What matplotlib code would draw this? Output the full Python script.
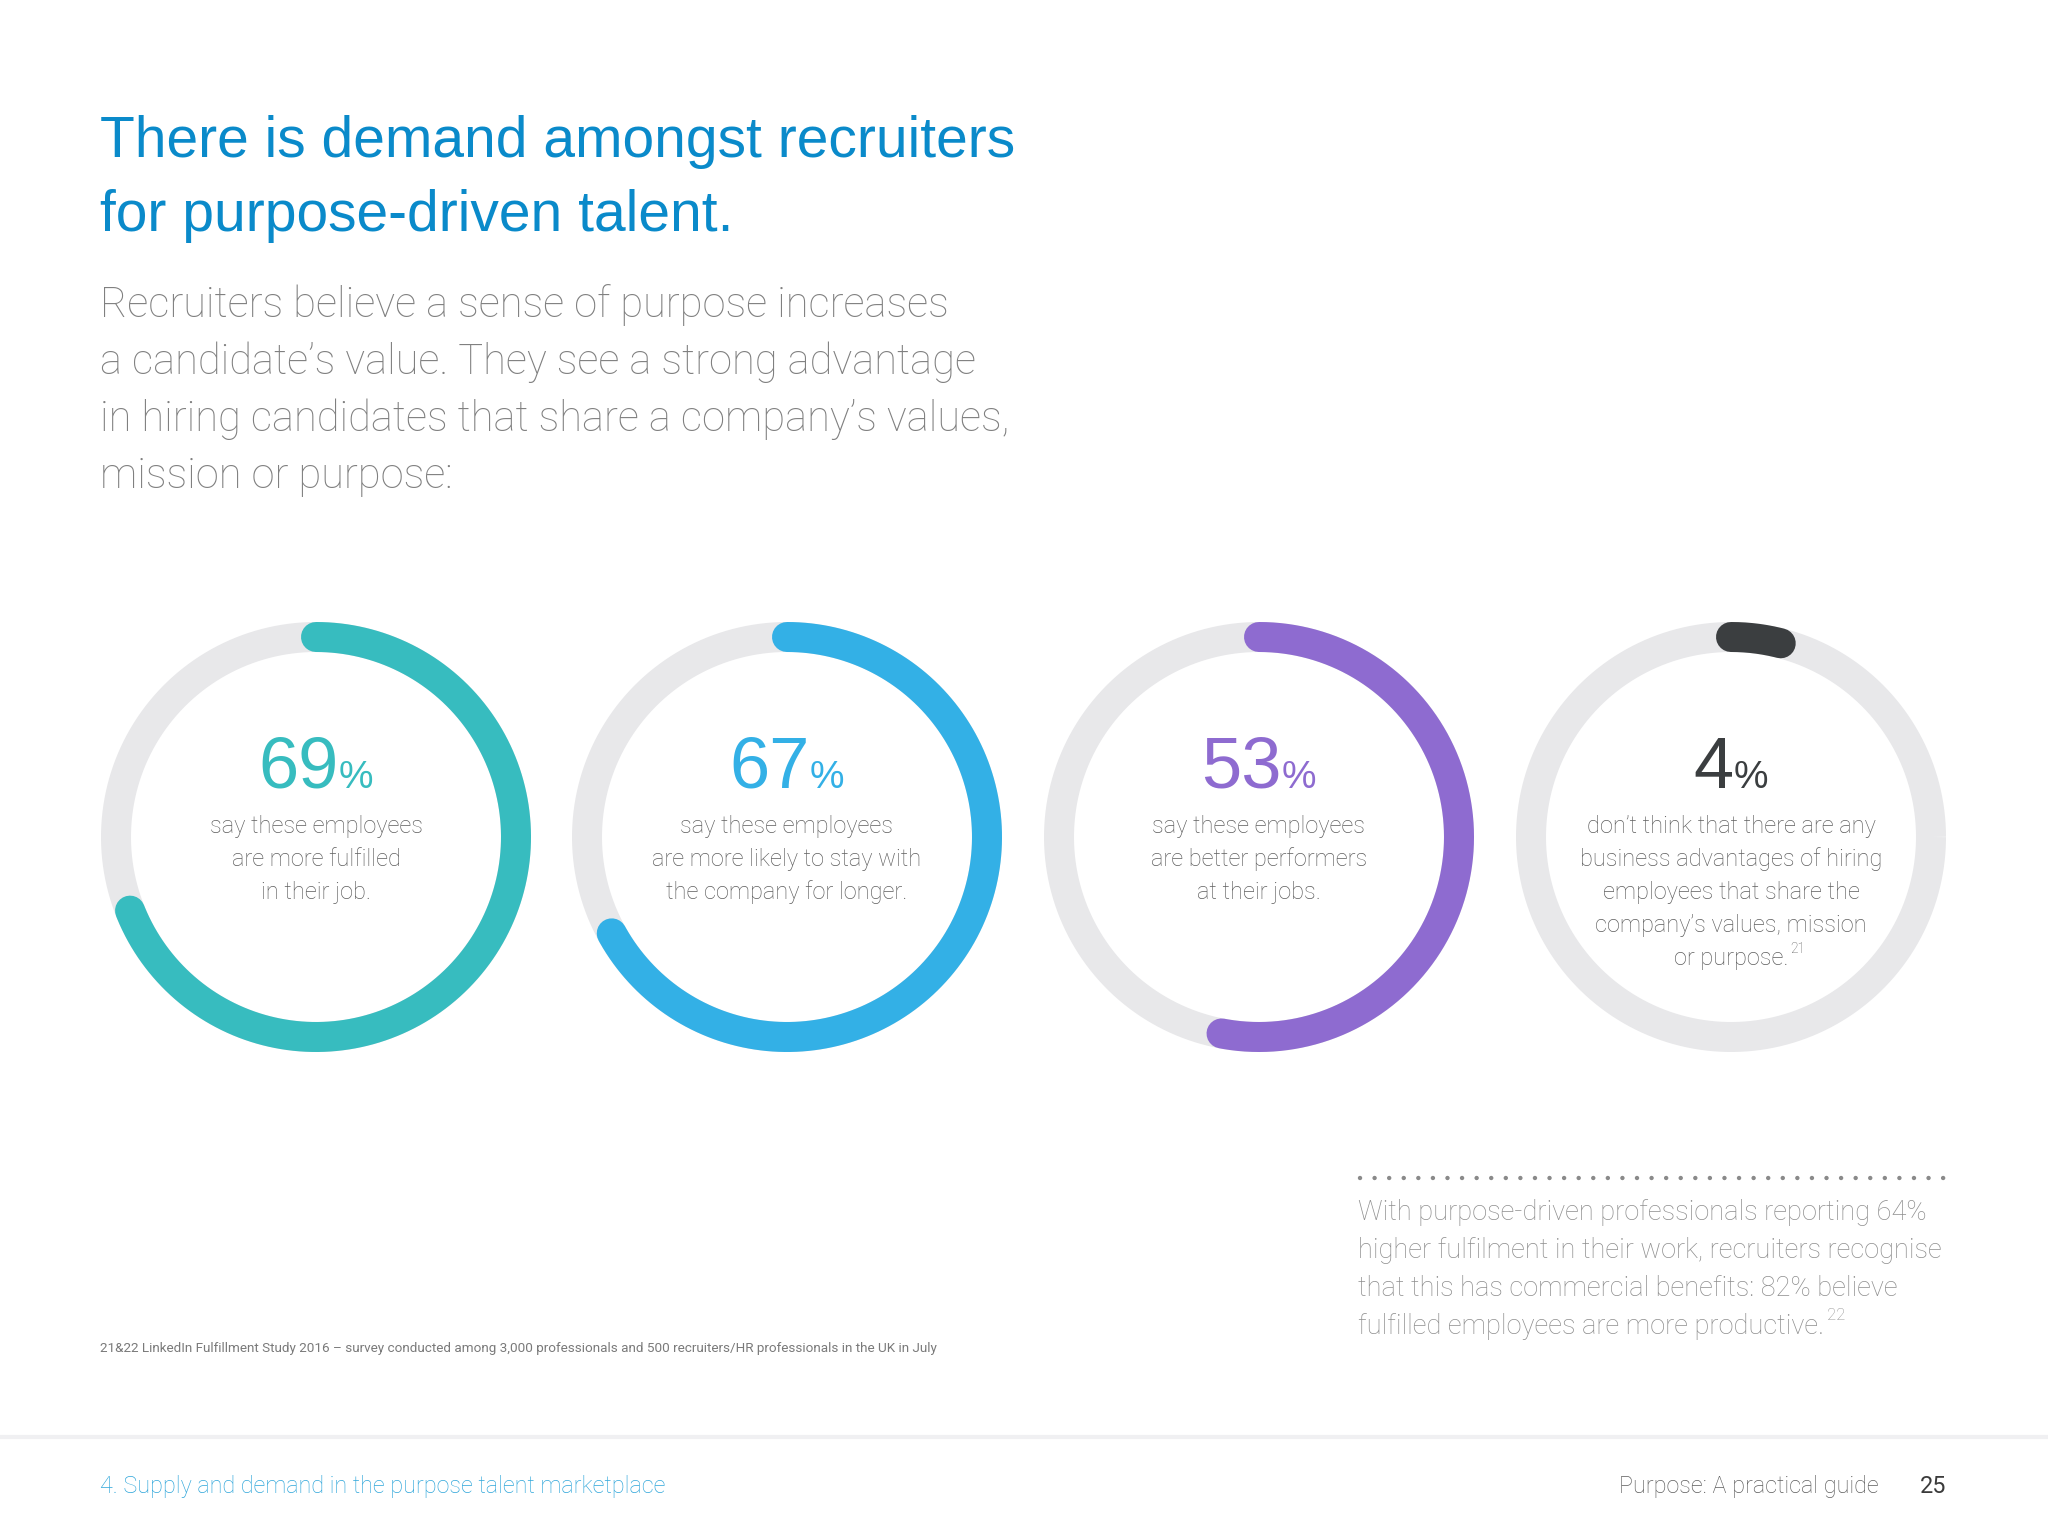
import numpy as np
import matplotlib
matplotlib.use("Agg")
import matplotlib.pyplot as plt

# Data
values = [69, 67, 53, 4]
colors = ["#37bcbf", "#33b0e6", "#8e6bd0", "#3b3e40"]
number_colors = ["#37bcbf", "#33b0e6", "#8e6bd0", "#3b3e40"]
descriptions = [
    ["say these employees", "are more fulfilled", "in their job."],
    ["say these employees", "are more likely to stay with", "the company for longer."],
    ["say these employees", "are better performers", "at their jobs."],
    ["don\u2019t think that there are any", "business advantages of hiring",
     "employees that share the", "company\u2019s values, mission", "or purpose."],
]
title_lines = ["There is demand amongst recruiters", "for purpose-driven talent."]
subtitle_lines = [
    "Recruiters believe a sense of purpose increases",
    "a candidate\u2019s value. They see a strong advantage",
    "in hiring candidates that share a company\u2019s values,",
    "mission or purpose:",
]
side_lines = [
    "With purpose-driven professionals reporting 64%",
    "higher fulfilment in their work, recruiters recognise",
    "that this has commercial benefits: 82% believe",
    "fulfilled employees are more productive.",
]
footnote = ("21&22 LinkedIn Fulfillment Study 2016 \u2013 survey conducted among 3,000 "
            "professionals and 500 recruiters/HR professionals in the UK in July")
footer_left = "4. Supply and demand in the purpose talent marketplace"
footer_right = "Purpose: A practical guide"
page_no = "25"

HEAD = ["Liberation Sans", "DejaVu Sans"]
LIGHT = ["Roboto", "DejaVu Sans"]

fig = plt.figure(figsize=(20.48, 15.36), dpi=100)
ax = fig.add_axes([0, 0, 1, 1])
ax.set_xlim(0, 2048)
ax.set_ylim(1536, 0)
ax.axis("off")

# Title and intro
for i, line in enumerate(title_lines):
    ax.text(100, 157 + i * 74, line, fontsize=41, color="#0a8aca",
            family=HEAD, va="baseline")
for i, line in enumerate(subtitle_lines):
    ax.text(100, 317 + i * 57, line, fontsize=30, color="#808080",
            family=LIGHT, weight="light", va="baseline")

# Donuts
centers_x = [316, 787, 1259, 1731]
cy, r, lw = 837, 200, 21.6
theta = np.linspace(0, 2 * np.pi, 400)
renderer = fig.canvas.get_renderer()
for cx, v, col, ncol, desc in zip(centers_x, values, colors, number_colors, descriptions):
    ax.plot(cx + r * np.cos(theta), cy - r * np.sin(theta), color="#e8e8ea",
            lw=lw, solid_capstyle="butt")
    t = np.radians(np.linspace(90, 90 - 360 * v / 100, 300))
    ax.plot(cx + r * np.cos(t), cy - r * np.sin(t), color=col, lw=lw,
            solid_capstyle="round")

    num = ax.text(cx, 788, str(v), fontsize=52, color=ncol, family=HEAD,
                  va="baseline", ha="left")
    pct = ax.text(cx, 788, "%", fontsize=28, color=ncol, family=HEAD,
                  va="baseline", ha="left")
    w1 = num.get_window_extent(renderer).width
    w2 = pct.get_window_extent(renderer).width
    left = cx - (w1 + w2) / 2
    num.set_x(left)
    pct.set_x(left + w1)

    for j, line in enumerate(desc):
        ax.text(cx, 833 + j * 33, line, fontsize=17, color="#5e5e5e",
                family=LIGHT, weight="light", va="baseline", ha="center")

# superscript on the last donut
last = ax.text(1731, 965, descriptions[3][-1], fontsize=17, alpha=0,
               family=LIGHT, weight="light", va="baseline", ha="center")
bb = last.get_window_extent(renderer)
ax.text(1731 + bb.width / 2 + 2, 953, "21", fontsize=10, color="#5e5e5e",
        family=LIGHT, weight="light", va="baseline", ha="left")

# Dotted rule and side paragraph
ax.plot([1360, 1949], [1178, 1178], color="#8a8a8a", lw=3.2,
        linestyle=(0, (0.01, 3.27)), dash_capstyle="round")
for i, line in enumerate(side_lines):
    t = ax.text(1358, 1220 + i * 38, line, fontsize=19.6, color="#8e8e8e",
                family=LIGHT, weight="light", va="baseline")
bb = t.get_window_extent(renderer)
ax.text(1358 + bb.width + 3, 1320, "22", fontsize=12, color="#8e8e8e",
        family=LIGHT, weight="light", va="baseline")

# Footnote
ax.text(100, 1352, footnote, fontsize=9.7, color="#7a7a7a", family=LIGHT,
        va="baseline")

# Footer
ax.plot([0, 2048], [1437, 1437], color="#f0f0f2", lw=3)
ax.text(100, 1493, footer_left, fontsize=16.8, color="#2fa6da", family=LIGHT,
        weight="light", va="baseline")
ax.text(1879, 1493, footer_right, fontsize=16.8, color="#5e5e5e", family=LIGHT,
        weight="light", va="baseline", ha="right")
ax.text(1946, 1493, page_no, fontsize=16.8, color="#3b3b3b", family=LIGHT,
        va="baseline", ha="right")

fig.savefig("out.png", dpi=100, facecolor="white")
